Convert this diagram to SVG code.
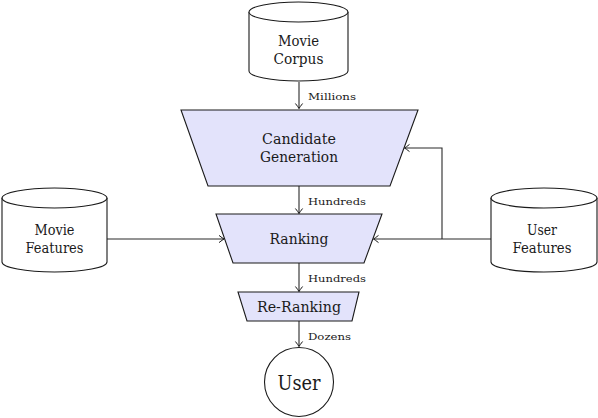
<svg xmlns="http://www.w3.org/2000/svg" width="598" height="418" viewBox="0 0 598 418">
<defs>
<style>
.shape{fill:#ffffff;stroke:#1a1a1a;stroke-width:1.1}
.stage{fill:#e3e3fb;stroke:#1a1a1a;stroke-width:1.1}
.t{font-family:"DejaVu Serif","Liberation Serif",serif;font-size:14px;fill:#1a1a1a;text-anchor:middle}
.lbl{font-family:"DejaVu Serif","Liberation Serif",serif;font-size:10px;fill:#1a1a1a}
.edge{fill:none;stroke:#2a2a2a;stroke-width:1.1;marker-end:url(#arr)}
</style>
<marker id="arr" viewBox="-6 -5 8 10" refX="0" refY="0" markerWidth="8" markerHeight="10" markerUnits="userSpaceOnUse" orient="auto">
<path d="M-5,-3.6 Q-1.5,-0.8 0,0 Q-1.5,0.8 -5,3.6" fill="none" stroke="#1a1a1a" stroke-width="1"/>
</marker>
</defs>
<rect x="0" y="0" width="598" height="418" fill="#ffffff"/>

<g id="connectors">
<path class="edge" d="M299,82 V108.5"/>
<text class="lbl" x="308" y="100" textLength="48" lengthAdjust="spacingAndGlyphs">Millions</text>
<path class="edge" d="M299,186 V213.5"/>
<text class="lbl" x="308" y="205" textLength="58" lengthAdjust="spacingAndGlyphs">Hundreds</text>
<path class="edge" d="M299,263 V291.5"/>
<text class="lbl" x="308" y="282" textLength="58" lengthAdjust="spacingAndGlyphs">Hundreds</text>
<path class="edge" d="M299,321 V346.5"/>
<text class="lbl" x="308" y="340" textLength="43" lengthAdjust="spacingAndGlyphs">Dozens</text>
<path class="edge" d="M107,239 H224"/>
<path class="edge" d="M491,239 H373.5"/>
<path class="edge" d="M442,239 V148 H404.5"/>
</g>

<g id="movie-corpus">
<path class="shape" d="M249,12 V71 A49.5,10 0 0 0 348,71 V12 A49.5,10 0 0 0 249,12 Z"/>
<path class="shape" d="M249,12 A49.5,10 0 0 0 348,12"/>
<text class="t" x="298.5" y="46" textLength="41" lengthAdjust="spacingAndGlyphs">Movie</text>
<text class="t" x="298.5" y="63.5" textLength="50" lengthAdjust="spacingAndGlyphs">Corpus</text>
</g>

<g id="candidate-generation">
<path class="stage" d="M181,110 H418 L390,186 H208 Z"/>
<text class="t" x="299" y="143.5" textLength="74" lengthAdjust="spacingAndGlyphs">Candidate</text>
<text class="t" x="299" y="161.5" textLength="78" lengthAdjust="spacingAndGlyphs">Generation</text>
</g>

<g id="movie-features">
<path class="shape" d="M2,198 V262 A52.5,10 0 0 0 107,262 V198 A52.5,10 0 0 0 2,198 Z"/>
<path class="shape" d="M2,198 A52.5,10 0 0 0 107,198"/>
<text class="t" x="54.5" y="235" textLength="40" lengthAdjust="spacingAndGlyphs">Movie</text>
<text class="t" x="54.5" y="252.5" textLength="58" lengthAdjust="spacingAndGlyphs">Features</text>
</g>

<g id="ranking">
<path class="stage" d="M216,214 H382 L364,263 H233 Z"/>
<text class="t" x="299" y="244" textLength="59" lengthAdjust="spacingAndGlyphs">Ranking</text>
</g>

<g id="user-features">
<path class="shape" d="M491,198 V262 A53,10 0 0 0 597,262 V198 A53,10 0 0 0 491,198 Z"/>
<path class="shape" d="M491,198 A53,10 0 0 0 597,198"/>
<text class="t" x="542" y="235" textLength="30" lengthAdjust="spacingAndGlyphs">User</text>
<text class="t" x="542" y="252.5" textLength="59" lengthAdjust="spacingAndGlyphs">Features</text>
</g>

<g id="re-ranking">
<path class="stage" d="M238,292 H359 L352,321 H247 Z"/>
<text class="t" x="299" y="312" textLength="84" lengthAdjust="spacingAndGlyphs">Re-Ranking</text>
</g>

<g id="user">
<circle class="shape" cx="299" cy="382" r="34.5"/>
<text class="t" x="299" y="390" style="font-size:20px" textLength="43" lengthAdjust="spacingAndGlyphs">User</text>
</g>
</svg>
